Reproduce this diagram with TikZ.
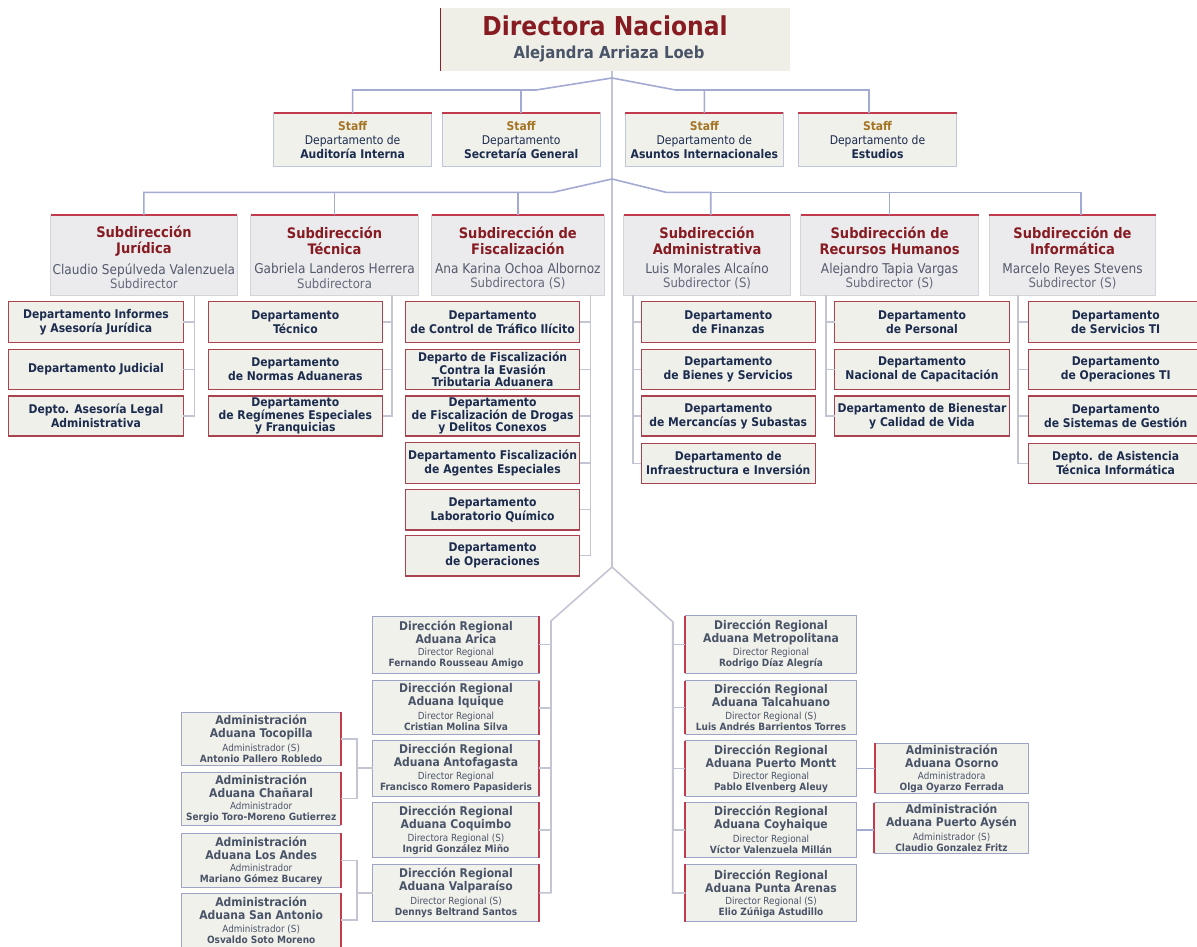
\documentclass[tikz,border=0pt]{standalone}
\usepackage{fontspec}
\setmainfont{DejaVu Sans Condensed}
\usetikzlibrary{calc}
\definecolor{redt}{HTML}{871B22}
\definecolor{grayt}{HTML}{535A6B}
\definecolor{roleg}{HTML}{646A7A}
\definecolor{goldt}{HTML}{A47424}
\definecolor{navy}{HTML}{1C2C4E}
\definecolor{slate}{HTML}{4A5468}
\definecolor{connA}{HTML}{A3ABD2}
\definecolor{connB}{HTML}{C3C5D3}
\definecolor{deptb}{HTML}{A8434F}
\definecolor{deptf}{HTML}{F0F0EA}
\definecolor{paper}{HTML}{F1F1EB}
\definecolor{staffb}{HTML}{BFC5DC}
\definecolor{subf}{HTML}{EBEBEE}
\definecolor{subb}{HTML}{D3D4DA}
\definecolor{redln}{HTML}{C23A4E}
\definecolor{regb}{HTML}{9EA4C6}
\definecolor{dirf}{HTML}{EFEFE8}
\definecolor{dirln}{HTML}{8A1E2A}
\tikzset{
  conn/.style={draw=connA, line width=1.6pt},
  connb/.style={draw=connB, line width=1.6pt},
  dept/.style={draw=deptb, fill=deptf, line width=1.2pt, inner sep=0pt, outer sep=0pt, align=center, text=navy, font=\fontsize{12}{14}\selectfont\bfseries},
  deptiii/.style={dept, font=\fontsize{12}{12.4}\selectfont\bfseries},
  staffbox/.style={draw=staffb, fill=paper, line width=1pt, inner sep=0pt, outer sep=0pt, align=center, text=navy, font=\fontsize{12}{14}\selectfont},
  subbox/.style={draw=subb, fill=subf, line width=1pt, inner sep=0pt, outer sep=0pt},
  regbox/.style={draw=regb, fill=paper, line width=1pt, inner sep=0pt, outer sep=0pt},
  dirbox/.style={fill=dirf, inner sep=0pt, outer sep=0pt},
  redtop/.style={draw=redln, line width=1.3pt},
  redside/.style={draw=redln, line width=2pt},
  subtitle/.style={align=center, text=redt, inner sep=0pt, font=\fontsize{14.5}{16}\selectfont\bfseries},
  subname/.style={align=center, text=grayt, inner sep=0pt, font=\fontsize{13.5}{14.5}\selectfont},
  regtitle/.style={align=center, text=slate, inner sep=0pt, font=\fontsize{12}{13}\selectfont\bfseries},
  regname/.style={align=center, text=slate, inner sep=0pt, font=\fontsize{10}{11}\selectfont},
}
\newcommand\bx[7]{\node[#1, minimum width={#4-#2}, minimum height={#5-#3}] (#6) at ({(#2+#4)/2},{(#3+#5)/2}) {#7};}
\newcommand\subd[6]{%
  \bx{subbox}{#1}{215}{#2}{295.3}{#3}{}
  \draw[redtop] (#3.north west) -- (#3.north east);
  \node[subtitle] (#3-t) at ({(#1+#2)/2},241) {#4};
  \node[subname] (#3-n) at ({(#1+#2)/2},276) {#5\\{\color{roleg}\fontsize{13}{14.5}\selectfont #6}};}
\newcommand\regb[9]{%
  \bx{regbox}{#2}{#3}{#4}{#5}{#6}{}
  \draw[redside] (#6.north #1) -- (#6.south #1);
  \node[regtitle] (#6-t) at ({(#2+#4)/2},{(#3+#5)/2-12}) {#7};
  \node[regname] (#6-n) at ({(#2+#4)/2},{(#3+#5)/2+14}) {{\fontsize{9.8}{11}\selectfont #8}\\\textbf{#9}};}
\begin{document}
\begin{tikzpicture}[x=1pt,y=-1pt]
\clip (0,0) rectangle (1197,947);
\fill[white] (0,0) rectangle (1197,947);

% ---------- Directora ----------
\bx{dirbox}{440}{8}{790}{70.7}{dn}{}
\draw[draw=dirln, line width=1pt] (dn.north west) -- (dn.south west);
\node[font=\fontsize{26}{30}\selectfont\bfseries, text=redt, anchor=base] (dn-t) at (605,35.5) {Directora Nacional};
\node[font=\fontsize{16.5}{20}\selectfont\bfseries, text=slate, anchor=base] (dn-n) at (609,59) {Alejandra Arriaza Loeb};

% ---------- trunk ----------
\coordinate (cj1) at (612,78);
\coordinate (cj2) at (612,179);
\coordinate (cj3) at (612,567);
\draw[connb] (dn.south -| cj1) -- (cj3);

% ---------- Staff ----------
\bx{staffbox}{273.6}{113}{431.7}{166.7}{stA}{\textcolor{goldt}{\bfseries Staff}\\Departamento de\\\textbf{Auditoría Interna}}
\bx{staffbox}{442.4}{113}{600}{166.7}{stS}{\textcolor{goldt}{\bfseries Staff}\\Departamento\\\textbf{Secretaría General}}
\bx{staffbox}{625.3}{113}{783.4}{166.7}{stI}{\textcolor{goldt}{\bfseries Staff}\\Departamento de\\\textbf{Asuntos Internacionales}}
\bx{staffbox}{798.3}{113}{956.7}{166.7}{stE}{\textcolor{goldt}{\bfseries Staff}\\Departamento de\\\textbf{Estudios}}
\foreach \n in {stA,stS,stI,stE}{\draw[redtop] (\n.north west) -- (\n.north east);}
\coordinate (sl) at (536,90);
\coordinate (sr) at (675.5,90);
\coordinate (stE-in) at (868.7,113);
\draw[conn] (cj1) -- (sl) -| (stA.north);
\draw[conn] (sl) -| (stS.north);
\draw[conn] (cj1) -- (sr) -| (stI.north);
\draw[conn] (sr) -| (stE-in);

% ---------- Subdirecciones ----------
\subd{50.5}{237.3}{sJ}{Subdirección\\Jurídica}{Claudio Sepúlveda Valenzuela}{Subdirector}
\subd{250.7}{418.3}{sT}{Subdirección\\Técnica}{Gabriela Landeros Herrera}{Subdirectora}
\subd{431.7}{604}{sF}{Subdirección de\\Fiscalización}{Ana Karina Ochoa Albornoz}{Subdirectora (S)}
\subd{623.8}{790.3}{sA}{Subdirección\\Administrativa}{Luis Morales Alcaíno}{Subdirector (S)}
\subd{800.6}{978.6}{sR}{Subdirección de\\Recursos Humanos}{Alejandro Tapia Vargas}{Subdirector (S)}
\subd{989.3}{1155.7}{sI}{Subdirección de\\Informática}{Marcelo Reyes Stevens}{Subdirector (S)}
\coordinate (sl2) at (553,192.3);
\coordinate (sr2) at (666,192.3);
\coordinate (sA-in) at (710.7,215);
\coordinate (sI-in) at (1081,215);
\draw[conn] (cj2) -- (sl2) -| (sJ.north);
\draw[conn] (sl2) -| (sT.north);
\draw[conn] (sl2) -| (sF.north);
\draw[conn] (cj2) -- (sr2) -| (sA-in);
\draw[conn] (sr2) -| (sR.north);
\draw[conn] (sr2) -| (sI-in);

% ---------- Departamentos ----------
\bx{dept}{8.6}{301.7}{183.3}{342.3}{dJ1}{Departamento Informes\\y Asesoría Jurídica}
\bx{dept}{8.6}{349.3}{183.3}{389.3}{dJ2}{Departamento Judicial}
\bx{dept}{8.6}{396}{183.3}{436}{dJ3}{Depto. Asesoría Legal\\Administrativa}
\bx{dept}{208.2}{301.7}{382.5}{342.3}{dT1}{Departamento\\Técnico}
\bx{dept}{208.2}{349.3}{382.5}{389.3}{dT2}{Departamento\\de Normas Aduaneras}
\bx{deptiii}{208.2}{396}{382.5}{436}{dT3}{Departamento\\de Regímenes Especiales\\y Franquicias}
\bx{dept}{405.4}{301.7}{579.8}{342.3}{dF1}{Departamento\\de Control de Tráfico Ilícito}
\bx{deptiii}{405.4}{349.3}{579.8}{389.3}{dF2}{Departo de Fiscalización\\Contra la Evasión\\Tributaria Aduanera}
\bx{deptiii}{405.4}{396}{579.8}{436}{dF3}{Departamento\\de Fiscalización de Drogas\\y Delitos Conexos}
\bx{dept}{405.4}{442.7}{579.8}{483.3}{dF4}{Departamento Fiscalización\\de Agentes Especiales}
\bx{dept}{405.4}{489.3}{579.8}{530}{dF5}{Departamento\\Laboratorio Químico}
\bx{dept}{405.4}{535.3}{579.8}{576}{dF6}{Departamento\\de Operaciones}
\bx{dept}{641.1}{301.7}{815.5}{342.3}{dA1}{Departamento\\de Finanzas}
\bx{dept}{641.1}{349.3}{815.5}{389.3}{dA2}{Departamento\\de Bienes y Servicios}
\bx{dept}{641.1}{396}{815.5}{436}{dA3}{Departamento\\de Mercancías y Subastas}
\bx{dept}{641.1}{443.3}{815.5}{483.3}{dA4}{Departamento de\\Infraestructura e Inversión}
\bx{dept}{834.6}{301.7}{1009.4}{342.3}{dR1}{Departamento\\de Personal}
\bx{dept}{834.6}{349.3}{1009.4}{389.3}{dR2}{Departamento\\Nacional de Capacitación}
\bx{dept}{834.6}{396}{1009.4}{436}{dR3}{Departamento de Bienestar\\y Calidad de Vida}
\bx{dept}{1028.4}{301.7}{1203}{342.3}{dI1}{Departamento\\de Servicios TI}
\bx{dept}{1028.4}{349.3}{1203}{389.3}{dI2}{Departamento\\de Operaciones TI}
\bx{dept}{1028.4}{396}{1203}{436}{dI3}{Departamento\\de Sistemas de Gestión}
\bx{dept}{1028.4}{443.3}{1203}{483.3}{dI4}{Depto. de Asistencia\\Técnica Informática}

\coordinate (bJ) at (194.6,295.3);
\coordinate (bT) at (391.8,295.3);
\coordinate (bF) at (590.3,295.3);
\coordinate (bA) at (633,295.3);
\coordinate (bR) at (825.8,295.3);
\coordinate (bI) at (1018,295.3);
\foreach \d in {dJ1,dJ2,dJ3}{\draw[connb] (bJ) |- (\d.east);}
\foreach \d in {dT1,dT2,dT3}{\draw[connb] (bT) |- (\d.east);}
\foreach \d in {dF1,dF2,dF3,dF4,dF5,dF6}{\draw[connb] (bF) |- (\d.east);}
\foreach \d in {dA1,dA2,dA3,dA4}{\draw[connb] (bA) |- (\d.west);}
\foreach \d in {dR1,dR2,dR3}{\draw[connb] (bR) |- (\d.west);}
\foreach \d in {dI1,dI2,dI3,dI4}{\draw[connb] (bI) |- (\d.west);}

% ---------- Direcciones Regionales ----------
\regb{east}{372.7}{616}{539.3}{673.3}{rAr}{Dirección Regional\\Aduana Arica}{Director Regional}{Fernando Rousseau Amigo}
\regb{east}{372.7}{680.7}{539.3}{734.7}{rIq}{Dirección Regional\\Aduana Iquique}{Director Regional}{Cristian Molina Silva}
\regb{east}{372.7}{740}{539.3}{796}{rAn}{Dirección Regional\\Aduana Antofagasta}{Director Regional}{Francisco Romero Papasideris}
\regb{east}{372.7}{802.3}{539.3}{857.7}{rCo}{Dirección Regional\\Aduana Coquimbo}{Directora Regional (S)}{Ingrid González Miño}
\regb{east}{372.7}{864}{539.3}{921.7}{rVa}{Dirección Regional\\Aduana Valparaíso}{Director Regional (S)}{Dennys Beltrand Santos}

\regb{west}{685.3}{615.7}{856.7}{673.3}{rMe}{Dirección Regional\\Aduana Metropolitana}{Director Regional}{Rodrigo Díaz Alegría}
\regb{west}{685.3}{680.7}{856.7}{734.3}{rTa}{Dirección Regional\\Aduana Talcahuano}{Director Regional (S)}{Luis Andrés Barrientos Torres}
\regb{west}{685.3}{740.7}{856.7}{796}{rPm}{Dirección Regional\\Aduana Puerto Montt}{Director Regional}{Pablo Elvenberg Aleuy}
\regb{west}{685.3}{802.3}{856.7}{857.7}{rCy}{Dirección Regional\\Aduana Coyhaique}{Director Regional}{Víctor Valenzuela Millán}
\regb{west}{685.3}{864.3}{856.7}{921.7}{rPa}{Dirección Regional\\Aduana Punta Arenas}{Director Regional (S)}{Elio Zúñiga Astudillo}

% ---------- Administraciones ----------
\regb{east}{181.7}{712.3}{340.7}{765.7}{aTo}{Administración\\Aduana Tocopilla}{Administrador (S)}{Antonio Pallero Robledo}
\regb{east}{181.7}{772.3}{340.7}{825}{aCh}{Administración\\Aduana Chañaral}{Administrador}{Sergio Toro-Moreno Gutierrez}
\regb{east}{181.7}{833.3}{340.7}{887.7}{aLa}{Administración\\Aduana Los Andes}{Administrador}{Mariano Gómez Bucarey}
\regb{east}{181.7}{893.3}{340.7}{947}{aSa}{Administración\\Aduana San Antonio}{Administrador (S)}{Osvaldo Soto Moreno}
\regb{west}{875.3}{743.3}{1028.3}{793.3}{aOs}{Administración\\Aduana Osorno}{Administradora}{Olga Oyarzo Ferrada}
\regb{west}{874.3}{802.7}{1028.7}{853.3}{aAy}{Administración\\Aduana Puerto Aysén}{Administrador (S)}{Claudio Gonzalez Fritz}

% ---------- lower connectors ----------
\coordinate (lb) at (551,621);
\coordinate (rb) at (672.7,621.7);
\draw[connb] (cj3) -- (lb) |- (rVa.east);
\foreach \d in {rAr,rIq,rAn,rCo}{\draw[connb] (lb) |- (\d.east);}
\draw[connb] (cj3) -- (rb) |- (rPa.west);
\foreach \d in {rMe,rTa,rPm,rCy}{\draw[connb] (rb) |- (\d.west);}

\coordinate (k1) at (356.7,739);
\coordinate (k2) at (356.7,860.5);
\draw[connb] (aTo.east) -- (k1) |- (aCh.east);
\draw[connb] (k1 |- rAn.west) -- (rAn.west);
\draw[connb] (aLa.east) -- (k2) |- (aSa.east);
\draw[connb] (k2 |- rVa.west) -- (rVa.west);

\draw[conn] (rPm.east) -- (rPm.east -| aOs.west);
\draw[conn] (rCy.east) -- (rCy.east -| aAy.west);
\end{tikzpicture}
\end{document}
